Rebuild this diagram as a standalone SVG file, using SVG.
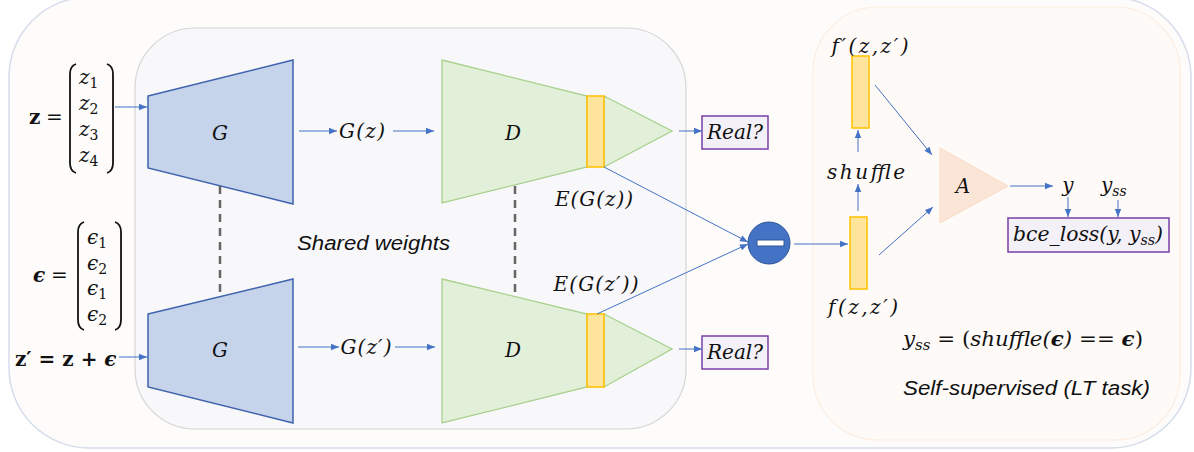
<svg xmlns="http://www.w3.org/2000/svg" width="1194" height="452" viewBox="0 0 1194 452">
<defs>
<style>
.m{font-family:"DejaVu Serif","Liberation Serif",serif;font-style:italic;font-size:20px;fill:#111}
.mu{font-family:"DejaVu Serif","Liberation Serif",serif;font-size:20px;fill:#111}
.sub{font-size:14px}
.s{font-family:"Liberation Sans",Arial,sans-serif;font-style:italic;font-size:20px;fill:#111}
.gen{fill:#c5d3eb;stroke:#3f63ad;stroke-width:1.5}
.dis{fill:#e2efd9;stroke:#a8d18d;stroke-width:1.3}
.feat{fill:#ffe59b;stroke:#ffc000;stroke-width:1.5}
.box{fill:#f3f0f7;stroke:#7a3fa8;stroke-width:1.5}
.br{fill:none;stroke:#111;stroke-width:1.8}
.c{fill:none;stroke:#4472c4;stroke-width:1;marker-end:url(#ah)}
.dash{fill:none;stroke:#666;stroke-width:2.5;stroke-dasharray:8 6}
</style>
<marker id="ah" viewBox="0 0 10 10" refX="10" refY="5" markerWidth="9" markerHeight="8" markerUnits="userSpaceOnUse" orient="auto">
<path d="M0,1 L10,5 L0,9 z" fill="#4472c4"/>
</marker>
</defs>

<g id="frame">
<rect x="9" y="-3" width="1182" height="451" rx="80" fill="#fdfcfb" stroke="#d5dcea" stroke-width="1.5"/>
</g>
<g id="shared-panel">
<rect x="135" y="28" width="551" height="401" rx="60" fill="#f8f8fa" stroke="#d6d6d6" stroke-width="1.2"/>
<text class="s" x="297" y="250" textLength="153" lengthAdjust="spacingAndGlyphs">Shared weights</text>
</g>
<g id="ss-panel">
<rect x="813" y="7" width="367" height="433" rx="65" fill="#fefaf7" stroke="#fcede0" stroke-width="1.2"/>
<text class="s" x="903" y="395" textLength="247" lengthAdjust="spacingAndGlyphs">Self-supervised (LT task)</text>
</g>

<g id="z-vector">
<text class="mu" x="29" y="124" font-weight="bold">z</text>
<text class="mu" x="46" y="124">=</text>
<path class="br" d="M76,64 Q70,66 70,74 L70,163 Q70,171 76,173"/>
<path class="br" d="M107,64 Q113,66 113,74 L113,163 Q113,171 107,173"/>
<text class="m" x="79" y="84">z<tspan class="sub" font-style="normal" dy="4">1</tspan></text>
<text class="m" x="79" y="110">z<tspan class="sub" font-style="normal" dy="4">2</tspan></text>
<text class="m" x="79" y="136">z<tspan class="sub" font-style="normal" dy="4">3</tspan></text>
<text class="m" x="79" y="162">z<tspan class="sub" font-style="normal" dy="4">4</tspan></text>
</g>

<g id="eps-vector">
<text class="m" x="33" y="282" font-weight="bold">ϵ</text>
<text class="mu" x="51" y="282">=</text>
<path class="br" d="M84,222 Q78,224 78,232 L78,320 Q78,328 84,330"/>
<path class="br" d="M115,222 Q121,224 121,232 L121,320 Q121,328 115,330"/>
<text class="m" x="87" y="244">ϵ<tspan class="sub" font-style="normal" dy="4">1</tspan></text>
<text class="m" x="87" y="270">ϵ<tspan class="sub" font-style="normal" dy="4">2</tspan></text>
<text class="m" x="87" y="295">ϵ<tspan class="sub" font-style="normal" dy="4">1</tspan></text>
<text class="m" x="87" y="321">ϵ<tspan class="sub" font-style="normal" dy="4">2</tspan></text>
</g>

<g id="zprime">
<text class="mu" x="15" y="366" font-weight="bold" font-size="18">z′ = z + <tspan font-style="italic">ϵ</tspan></text>
</g>

<g id="G-top">
<polygon class="gen" points="148,96 293,60 293,204 148,168"/>
<text class="m" x="220" y="140" text-anchor="middle" font-size="21">G</text>
</g>
<g id="G-bottom">
<polygon class="gen" points="148,314 293,279 293,423 148,387"/>
<text class="m" x="220" y="357" text-anchor="middle" font-size="21">G</text>
</g>

<g id="Gz-label">
<text class="m" x="362" y="138" text-anchor="middle" textLength="46" lengthAdjust="spacing">G(z)</text>
</g>
<g id="Gzp-label">
<text class="m" x="366" y="354" text-anchor="middle" textLength="51" lengthAdjust="spacing">G(z′)</text>
</g>

<g id="D-top">
<polygon class="dis" points="442,60 587,96 587,167 442,203"/>
<polygon class="dis" points="604,96 672,131 604,167"/>
<rect class="feat" x="587" y="96" width="17" height="71"/>
<text class="m" x="513" y="140" text-anchor="middle" font-size="21">D</text>
<text class="m" x="594" y="206" text-anchor="middle" textLength="78" lengthAdjust="spacing">E(G(z))</text>
</g>
<g id="D-bottom">
<polygon class="dis" points="442,279 587,314 587,387 442,423"/>
<polygon class="dis" points="604,314 672,349 604,387"/>
<rect class="feat" x="587" y="314" width="17" height="73"/>
<text class="m" x="513" y="357" text-anchor="middle" font-size="21">D</text>
<text class="m" x="596" y="291" text-anchor="middle" textLength="85" lengthAdjust="spacing">E(G(z′))</text>
</g>

<g id="real-top">
<rect class="box" x="702" y="116" width="66" height="33"/>
<text class="m" x="735" y="139" text-anchor="middle" textLength="56" lengthAdjust="spacingAndGlyphs">Real?</text>
</g>
<g id="real-bottom">
<rect class="box" x="702" y="336" width="66" height="33"/>
<text class="m" x="735" y="359" text-anchor="middle" textLength="56" lengthAdjust="spacingAndGlyphs">Real?</text>
</g>

<g id="minus">
<circle cx="769" cy="243" r="21" fill="#4472c4" stroke="#2f5597" stroke-width="1"/>
<rect x="757" y="240" width="27" height="6" fill="#fff" stroke="#2f5597" stroke-width="1"/>
</g>

<g id="f-feat">
<rect class="feat" x="850" y="217" width="17" height="72"/>
<text class="m" x="863" y="314" text-anchor="middle" textLength="70" lengthAdjust="spacing">f(z,z′)</text>
</g>
<g id="fp-feat">
<rect class="feat" x="852" y="56" width="17" height="72"/>
<text class="m" x="870" y="53" text-anchor="middle" textLength="77" lengthAdjust="spacing">f′(z,z′)</text>
</g>
<g id="shuffle-label">
<text class="m" x="866" y="179" text-anchor="middle" textLength="78" lengthAdjust="spacing">shuffle</text>
</g>

<g id="A">
<polygon points="940,148 1008,186 940,223" fill="#fbe5d6" stroke="#f9dcc6" stroke-width="1"/>
<text class="m" x="963" y="193" text-anchor="middle" font-size="21">A</text>
</g>
<g id="y-labels">
<text class="m" x="1068" y="192" text-anchor="middle">y</text>
<text class="m" x="1101" y="192">y<tspan class="sub" dy="4">ss</tspan></text>
</g>
<g id="bce">
<rect class="box" x="1008" y="218" width="161" height="34"/>
<text class="m" x="1088" y="241" text-anchor="middle" textLength="150" lengthAdjust="spacingAndGlyphs">bce_loss(y, y<tspan class="sub" dy="4">ss</tspan><tspan dy="-4">)</tspan></text>
</g>
<g id="yss-def">
<text class="m" x="903" y="346" textLength="240" lengthAdjust="spacingAndGlyphs">y<tspan class="sub" dy="4">ss</tspan><tspan dy="-4" font-style="normal"> = (</tspan>shuffle(<tspan font-weight="bold">ϵ</tspan>)<tspan font-style="normal"> == </tspan><tspan font-weight="bold">ϵ</tspan><tspan font-style="normal">)</tspan></text>
</g>

<g id="connectors">
<line class="c" x1="115" y1="107" x2="147" y2="107"/>
<line class="c" x1="119" y1="357" x2="147" y2="357"/>
<line class="c" x1="299" y1="131" x2="337" y2="131"/>
<line class="c" x1="393" y1="131" x2="434" y2="131"/>
<line class="c" x1="298" y1="347" x2="339" y2="347"/>
<line class="c" x1="395" y1="347" x2="435" y2="347"/>
<line class="c" x1="679" y1="131" x2="702" y2="131"/>
<line class="c" x1="679" y1="349" x2="702" y2="349"/>
<line class="dash" x1="220" y1="186" x2="220" y2="296"/>
<line class="dash" x1="515" y1="186" x2="515" y2="296"/>
<line class="c" x1="604" y1="167" x2="748" y2="242"/>
<line class="c" x1="597" y1="314" x2="748" y2="244"/>
<line class="c" x1="794" y1="244" x2="848" y2="244"/>
<line class="c" x1="858" y1="211" x2="858" y2="184"/>
<line class="c" x1="858" y1="152" x2="858" y2="130"/>
<line class="c" x1="875" y1="85" x2="932" y2="155"/>
<line class="c" x1="879" y1="255" x2="933" y2="207"/>
<line class="c" x1="1010" y1="186" x2="1053" y2="186"/>
<line class="c" x1="1068" y1="197" x2="1068" y2="217"/>
<line class="c" x1="1118" y1="200" x2="1118" y2="217"/>
</g>
</svg>
